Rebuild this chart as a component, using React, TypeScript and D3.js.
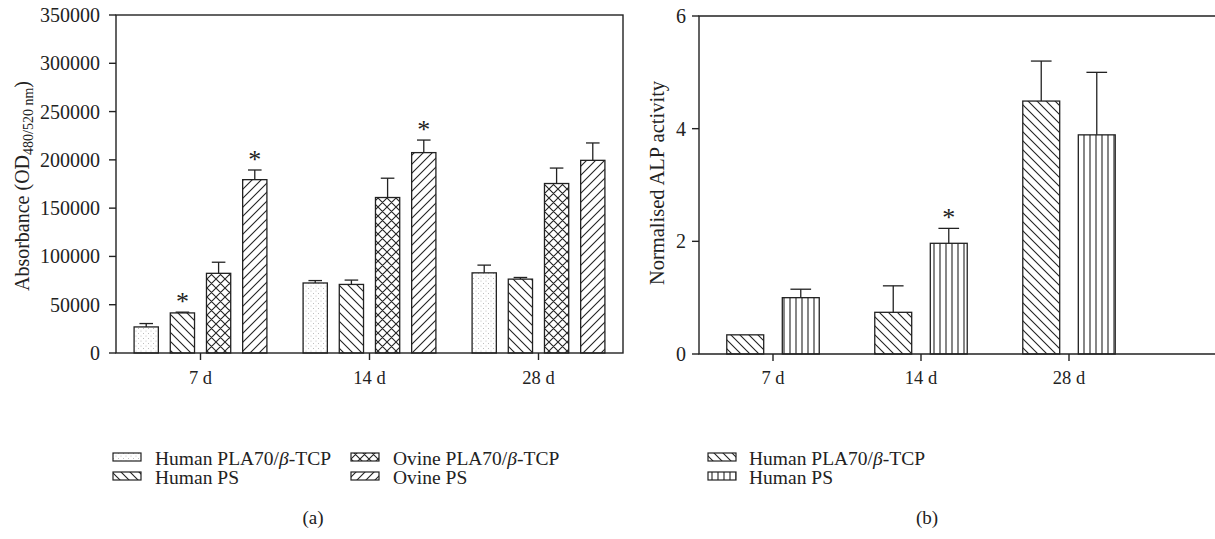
import React from 'react';
import * as d3 from 'd3';

// panel (a): absorbance
const daysA = ['7 d', '14 d', '28 d'];
const seriesA = ['Human PLA70/β-TCP', 'Human PS', 'Ovine PLA70/β-TCP', 'Ovine PS'];
const humanPlaA = [27000, 72500, 83000];
const humanPlaAErr = [3500, 2500, 8000];
const humanPsA = [41500, 71000, 76500];
const humanPsAErr = [800, 4500, 1700];
const ovinePlaA = [82500, 161000, 175500];
const ovinePlaAErr = [11500, 20000, 16000];
const ovinePsA = [179500, 207500, 199500];
const ovinePsAErr = [10000, 13000, 18000];
const starsA = [[false, true, false, true], [false, false, false, true], [false, false, false, false]];
const ticksA = [0, 50000, 100000, 150000, 200000, 250000, 300000, 350000];

// panel (b): normalised ALP
const daysB = ['7 d', '14 d', '28 d'];
const seriesB = ['Human PLA70/β-TCP', 'Human PS'];
const humanPlaB = [0.34, 0.74, 4.49];
const humanPlaBErr = [0, 0.47, 0.71];
const humanPsB = [1.0, 1.965, 3.89];
const humanPsBErr = [0.15, 0.265, 1.11];
const starsB = [[false, false], [false, true], [false, false]];
const ticksB = [0, 2, 4, 6];

const font = '"Liberation Serif", "DejaVu Serif", serif';
const ink = '#222';

const fillsA = ['url(#dots)', 'url(#back)', 'url(#cross)', 'url(#fwd)'];
const fillsB = ['url(#back)', 'url(#vert)'];

function Bars({ x, inner, y, values, errs, stars, fills }) {
  const out = [];
  values.forEach((vals, si) => {
    vals.forEach((v, di) => {
      const bx = x(x.domain()[di]) + inner(inner.domain()[si]);
      const bw = inner.bandwidth();
      const top = y(v);
      const et = y(v + errs[si][di]);
      const cx = bx + bw / 2;
      const cap = bw * 0.28;
      out.push(
        <g key={si + '-' + di}>
          <rect x={bx} y={top} width={bw} height={y(0) - top} fill="#fff" />
          <rect x={bx} y={top} width={bw} height={y(0) - top} fill={fills[si]} stroke={ink} strokeWidth={1.3} />
          {errs[si][di] > 0 && (
            <g stroke={ink} strokeWidth={1.3}>
              <line x1={cx} x2={cx} y1={top} y2={et} />
              <line x1={cx - cap} x2={cx + cap} y1={et} y2={et} />
            </g>
          )}
          {stars[di][si] && (
            <text x={cx} y={et - 2} textAnchor="middle" fontSize={26} fontFamily={font} fill={ink}>*</text>
          )}
        </g>
      );
    });
  });
  return <g>{out}</g>;
}

function Swatch({ x, y, fill }) {
  return <rect x={x} y={y} width={28} height={8} fill={fill} stroke={ink} strokeWidth={1.2} />;
}

function LegendText({ x, y, text }) {
  const parts = text.split('β');
  return (
    <text x={x} y={y} fontSize={19.5} fontFamily={font} fill={ink}>
      {parts[0]}
      {parts.length > 1 && <tspan fontStyle="italic">β</tspan>}
      {parts.length > 1 && parts[1]}
    </text>
  );
}

export default function App() {
  // panel (a) scales
  const xA = d3.scaleBand().domain(daysA).range([116, 623]);
  const inA = d3.scaleBand().domain(seriesA).range([0, xA.bandwidth()]).paddingInner(0.33).paddingOuter(0.5);
  const yA = d3.scaleLinear().domain([0, 350000]).range([353, 15]);

  // panel (b) scales
  const xB = d3.scaleBand().domain(daysB).range([699, 1143]);
  const inB = d3.scaleBand().domain(seriesB).range([0, xB.bandwidth()]).paddingInner(0.335).paddingOuter(0.5);
  const yB = d3.scaleLinear().domain([0, 6]).range([354, 16]);

  return (
    <svg width={1215} height={539} style={{ position: 'absolute', left: 0, top: 0, background: '#fff' }}>
      <defs>
        <pattern id="dots" patternUnits="userSpaceOnUse" width={5} height={5}>
          <circle cx={1} cy={1} r={0.5} fill="#aaa" />
          <circle cx={3.5} cy={3.5} r={0.5} fill="#aaa" />
        </pattern>
        <pattern id="back" patternUnits="userSpaceOnUse" width={9} height={9}>
          <path d="M0,0L9,9M-3,6L3,12M6,-3L12,3" stroke={ink} strokeWidth={1.1} />
        </pattern>
        <pattern id="fwd" patternUnits="userSpaceOnUse" width={9} height={9}>
          <path d="M0,9L9,0M-3,3L3,-3M6,12L12,6" stroke={ink} strokeWidth={1.1} />
        </pattern>
        <pattern id="cross" patternUnits="userSpaceOnUse" width={9} height={9}>
          <path d="M0,0L9,9M-3,6L3,12M6,-3L12,3M0,9L9,0M-3,3L3,-3M6,12L12,6" stroke={ink} strokeWidth={1.1} />
        </pattern>
        <pattern id="vert" patternUnits="userSpaceOnUse" width={6} height={6} x={1}>
          <path d="M3,0L3,6" stroke={ink} strokeWidth={1.1} />
        </pattern>
      </defs>

      {/* ---------- panel (a) ---------- */}
      <Bars
        x={xA}
        inner={inA}
        y={yA}
        values={[humanPlaA, humanPsA, ovinePlaA, ovinePsA]}
        errs={[humanPlaAErr, humanPsAErr, ovinePlaAErr, ovinePsAErr]}
        stars={starsA}
        fills={fillsA}
      />
      <g stroke={ink} strokeWidth={1.4} fill="none">
        <rect x={116} y={15} width={507} height={338} />
        {ticksA.map(t => <line key={t} x1={109} x2={116} y1={yA(t)} y2={yA(t)} />)}
        {daysA.map(d => <line key={d} x1={xA(d) + xA.bandwidth() / 2} x2={xA(d) + xA.bandwidth() / 2} y1={353} y2={360} />)}
      </g>
      {ticksA.map(t => (
        <text key={t} x={100} y={yA(t)} dy="0.35em" textAnchor="end" fontSize={20} fontFamily={font} fill={ink}>{t}</text>
      ))}
      {daysA.map(d => (
        <text key={d} x={xA(d) + xA.bandwidth() / 2} y={384} textAnchor="middle" fontSize={18.5} fontFamily={font} fill={ink}>{d}</text>
      ))}
      <text transform="translate(29,186) rotate(-90)" textAnchor="middle" fontSize={20} fontFamily={font} fill={ink}>
        Absorbance (OD<tspan fontSize={14} dy={4}>480/520 nm</tspan><tspan dy={-4}>)</tspan>
      </text>

      {/* legend (a) */}
      <Swatch x={113} y={453} fill={fillsA[0]} />
      <LegendText x={155} y={465} text={seriesA[0]} />
      <Swatch x={113} y={472} fill={fillsA[1]} />
      <LegendText x={155} y={484} text={seriesA[1]} />
      <Swatch x={351} y={453} fill={fillsA[2]} />
      <LegendText x={393} y={465} text={seriesA[2]} />
      <Swatch x={351} y={472} fill={fillsA[3]} />
      <LegendText x={393} y={484} text={seriesA[3]} />
      <text x={313} y={524} textAnchor="middle" fontSize={19} fontFamily={font} fill={ink}>(a)</text>

      {/* ---------- panel (b) ---------- */}
      <Bars
        x={xB}
        inner={inB}
        y={yB}
        values={[humanPlaB, humanPsB]}
        errs={[humanPlaBErr, humanPsBErr]}
        stars={starsB}
        fills={fillsB}
      />
      <g stroke={ink} strokeWidth={1.4} fill="none">
        <path d="M1220,16H699V354H1220" />
        {ticksB.map(t => <line key={t} x1={692} x2={699} y1={yB(t)} y2={yB(t)} />)}
        {daysB.map(d => <line key={d} x1={xB(d) + xB.bandwidth() / 2} x2={xB(d) + xB.bandwidth() / 2} y1={354} y2={361} />)}
      </g>
      {ticksB.map(t => (
        <text key={t} x={686} y={yB(t)} dy="0.35em" textAnchor="end" fontSize={20} fontFamily={font} fill={ink}>{t}</text>
      ))}
      {daysB.map(d => (
        <text key={d} x={xB(d) + xB.bandwidth() / 2} y={384} textAnchor="middle" fontSize={18.5} fontFamily={font} fill={ink}>{d}</text>
      ))}
      <text transform="translate(664,183) rotate(-90)" textAnchor="middle" fontSize={20.5} fontFamily={font} fill={ink}>
        Normalised ALP activity
      </text>

      {/* legend (b) */}
      <Swatch x={708} y={453} fill={fillsB[0]} />
      <LegendText x={749} y={465} text={seriesB[0]} />
      <Swatch x={708} y={472} fill={fillsB[1]} />
      <LegendText x={749} y={484} text={seriesB[1]} />
      <text x={927} y={524} textAnchor="middle" fontSize={19} fontFamily={font} fill={ink}>(b)</text>
    </svg>
  );
}
